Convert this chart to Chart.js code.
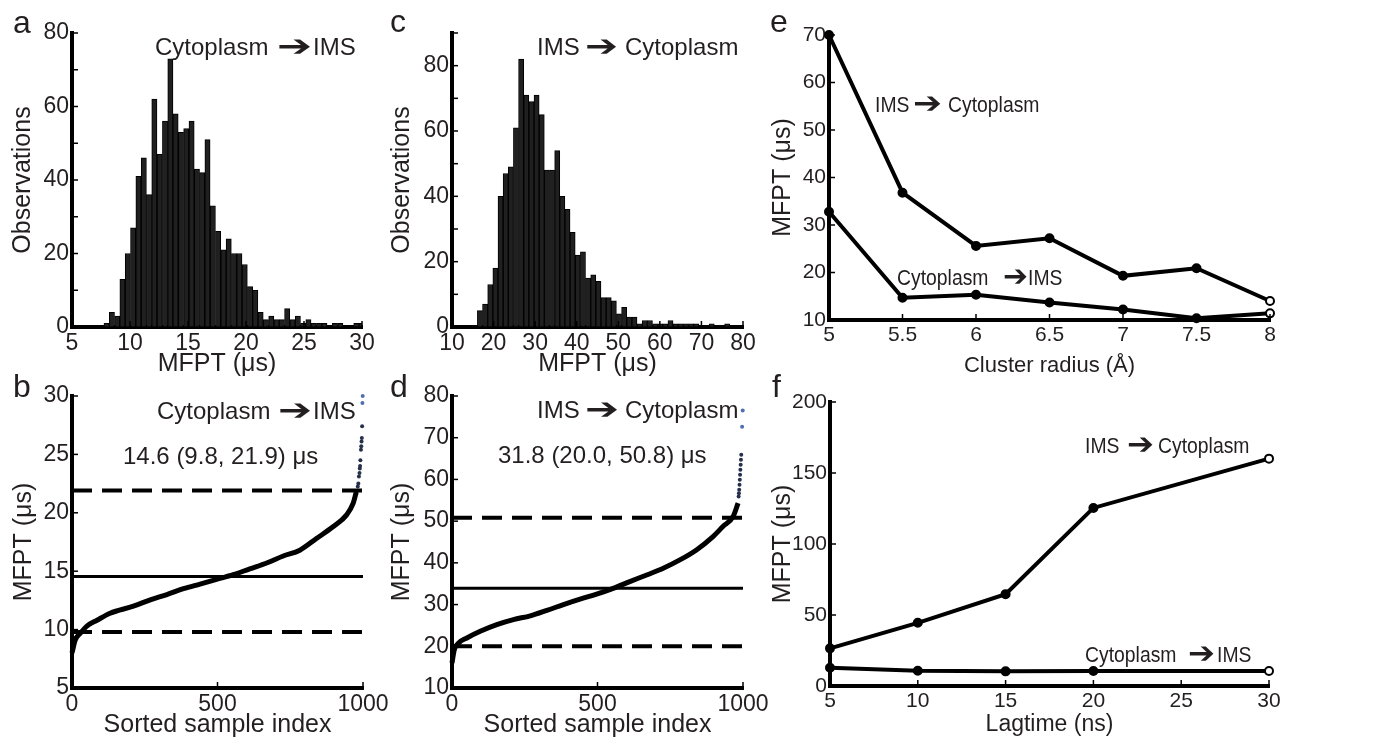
<!DOCTYPE html>
<html><head><meta charset="utf-8">
<script src="https://cdn.jsdelivr.net/npm/chart.js@4.4.0/dist/chart.umd.min.js"></script>
<style>
html,body{margin:0;padding:0;background:#fff;width:1392px;height:747px;overflow:hidden}
canvas{position:absolute}
</style></head><body>
<canvas id="pa" width="387" height="385" style="left:0;top:0"></canvas>
<canvas id="pb" width="395" height="375" style="left:0;top:372px"></canvas>
<canvas id="pc" width="400" height="385" style="left:387px;top:0"></canvas>
<canvas id="pd" width="400" height="375" style="left:387px;top:372px"></canvas>
<canvas id="pe" width="624" height="390" style="left:768px;top:0"></canvas>
<canvas id="pf" width="624" height="375" style="left:768px;top:372px"></canvas>
<script>
// ---------- DATA ----------
// (a) histogram Cytoplasm -> IMS
const histA_centers = [7.98,8.44,8.90,9.35,9.81,10.27,10.73,11.19,11.64,12.10,12.56,13.02,13.48,13.93,14.39,14.85,15.31,15.77,16.22,16.68,17.14,17.60,18.06,18.51,18.97,19.43,19.89,20.35,20.80,21.26,21.72,22.18,22.64,23.09,23.55,24.01,24.47,24.93,25.38,25.84,26.30,26.76,27.22,27.67,28.13,28.59,29.05,29.51,29.96];
const histA_counts  = [1,4,3,13,20,27,41,46,36,62,47,56,73,58,53,54,56,43,42,51,33,26,21,24,20,20,17,11,10,4,2,3,2,2,5,2,3,1,2,1,1,1,0,1,1,0,0,1,1];
// (c) histogram IMS -> Cytoplasm
const histC_centers = [16.72,17.96,19.20,20.44,21.68,22.92,24.15,25.39,26.63,27.87,29.11,30.35,31.59,32.83,34.07,35.31,36.54,37.78,39.02,40.26,41.50,42.74,43.98,45.22,46.46,47.70,48.93,50.17,51.41,52.65,53.89,55.13,56.37,57.61,58.85,60.09,61.32,62.56,63.80,65.04,66.28,67.52,68.76,70.00,71.24,72.48,73.71,74.95,76.19];
const histC_counts  = [5,7,13,18,40,47,49,61,82,71,69,71,65,48,48,54,40,36,29,22,23,15,16,14,9,9,8,4,6,3,3,1,2,2,1,1,1,2,1,1,1,1,1,0,0,1,0,0,1];
// (b) sorted samples Cytoplasm -> IMS
const sortB_index = [0,11,29,51,86,131,211,269,326,383,440,497,554,611,669,726,783,840,897,943,966,977];
const sortB_value = [8.0,9.1,9.7,10.3,10.8,11.4,12.0,12.55,13.0,13.5,13.9,14.3,14.7,15.2,15.7,16.3,16.8,17.8,18.8,19.8,20.8,21.8];
const tailB_index = [982,984,986,988,989,990,991,993,994,995,996,997,998,999];
const tailB_value = [22.25,22.5,23.1,23.4,23.8,24.0,24.5,25.4,25.7,26.1,26.4,27.4,29.4,30.0];
const refB = [14.55, 9.8, 21.9];   // solid line, lower dashed, upper dashed
// (d) sorted samples IMS -> Cytoplasm
const sortD_index = [0,8,23,51,97,154,211,269,326,383,440,497,554,611,669,726,783,840,897,931,966,983];
const sortD_value = [16.0,19.2,20.8,22.0,23.6,25.2,26.4,27.3,28.6,30.0,31.3,32.5,33.9,35.5,37.1,38.7,40.7,43.1,46.3,48.7,51.1,54.3];
const tailD_index = [985,986,987,988,989,990,991,992,993,994,997,999];
const tailD_value = [55.9,56.7,57.5,58.7,59.9,61.1,62.3,63.5,64.7,65.9,72.6,76.5];
const refD = [33.9, 20.0, 50.8];
// (e) cluster radius
const radius = [5,5.5,6,6.5,7,7.5,8];
const radiusIMS2Cyto = [70,36.8,25.6,27.2,19.3,20.9,14.0];
const radiusCyto2IMS = [32.8,14.7,15.3,13.7,12.2,10.35,11.4];
// (f) lagtime
const lagtime = [5,10,15,20,30];
const lagIMS2Cyto = [26.5,44.5,64.7,125.4,160.1];
const lagCyto2IMS = [12.9,10.8,10.3,10.55,10.55];

// ---------- STYLE / HELPERS ----------
const FONT = "'Liberation Sans', Arial, Helvetica, sans-serif";
const TXT = '#231f20';
Chart.defaults.font.family = FONT;
Chart.defaults.color = TXT;

const annot = {
  id: 'annot',
  afterDraw(chart, args, opts) {
    const ctx = chart.ctx;
    for (const it of (opts.items || [])) {
      for (const p of it.parts) {
        ctx.save();
        ctx.fillStyle = TXT;
        ctx.textBaseline = 'alphabetic';
        ctx.textAlign = 'left';
        ctx.translate(it.x + p.x, it.y + (p.dy || 0));
        if (p.arrow) {
          ctx.font = (p.size || 24) + "px 'DejaVu Sans'";
          const m = ctx.measureText(p.t).width;
          ctx.scale(p.w / m, 1);
        } else {
          ctx.font = p.size + 'px ' + FONT;
          ctx.scale(p.sx || 1, 1);
        }
        ctx.fillText(p.t, 0, 0);
        ctx.restore();
      }
    }
  }
};
const inTicks = {
  id: 'inTicks',
  afterDatasetsDraw(chart) {
    const ctx = chart.ctx, ca = chart.chartArea;
    const len = 6;
    ctx.save(); ctx.strokeStyle = '#000'; ctx.lineWidth = 1.5;
    const xs = chart.scales.x, ys = chart.scales.y;
    xs.ticks.forEach(t => { const p = xs.getPixelForValue(t.value); ctx.beginPath(); ctx.moveTo(p, ca.bottom); ctx.lineTo(p, ca.bottom - len); ctx.stroke(); });
    ys.ticks.forEach(t => { const p = ys.getPixelForValue(t.value); ctx.beginPath(); ctx.moveTo(ca.left, p); ctx.lineTo(ca.left + len, p); ctx.stroke(); });
    ctx.restore();
  }
};

function axis(o) {
  return {
    type: 'linear', min: o.min, max: o.max, offset: false,
    grid: {display: true, drawOnChartArea: false, drawTicks: false, offset: false},
    border: {display: true, color: '#000', width: 4},
    ticks: {stepSize: o.step, autoSkip: false, maxRotation: 0, minRotation: 0,
      padding: o.tpad == null ? 3 : o.tpad, font: {size: o.fs}, color: TXT,
      callback: o.cb || (v => String(v))},
    title: {display: true, text: o.title, font: {size: o.ts}, color: TXT, padding: o.titlePad},
    afterFit: s => { if (o.isY) s.width = o.size; else s.height = o.size; }
  };
}
function baseOptions(pad, xAxis, yAxis, items) {
  return {
    responsive: false, animation: false, devicePixelRatio: 1,
    layout: {padding: pad},
    plugins: {legend: {display: false}, tooltip: {enabled: false}, annot: {items}},
    scales: {x: xAxis, y: yAxis}
  };
}
const arrowTxt = (a, b, y, xa, xarr, warr, xb, size, sx) => ({x: 0, y, parts: [
  {t: a, x: xa, size, sx}, {t: '\u2794', x: xarr, w: warr, arrow: true, size: 30, dy: 1}, {t: b, x: xb, size, sx}]});
const letter = (t, x, y) => ({x, y, parts: [{t, x: 0, size: 32}]});
const pts = (xs, ys) => xs.map((v, i) => ({x: v, y: ys[i]}));

// ---------- (a) ----------
new Chart(document.getElementById('pa'), {
  type: 'bar',
  data: {datasets: [{data: pts(histA_centers, histA_counts), backgroundColor: '#202020', borderColor: '#000', borderWidth: 1,
    barPercentage: 1, categoryPercentage: 1}]},
  options: baseOptions({top: 33, right: 25, left: 0, bottom: 0},
    axis({min: 5, max: 30, step: 5, fs: 23, title: 'MFPT (\u03bcs)', ts: 25, titlePad: {top: 0, bottom: 6}, size: 58}),
    axis({isY: true, min: 0, max: 80, step: 10, fs: 23, title: 'Observations', ts: 25, titlePad: {top: 8, bottom: 0}, size: 72,
      cb: v => (v % 20 === 0 ? String(v) : '')}),
    [letter('a', 13, 33), arrowTxt('Cytoplasm', 'IMS', 55, 155, 277, 35, 313, 24)]),
  plugins: [annot, inTicks]
});

// ---------- (c) ----------
new Chart(document.getElementById('pc'), {
  type: 'bar',
  data: {datasets: [{data: pts(histC_centers, histC_counts), backgroundColor: '#202020', borderColor: '#000', borderWidth: 1,
    barPercentage: 1, categoryPercentage: 1}]},
  options: baseOptions({top: 33, right: 44, left: 0, bottom: 0},
    axis({min: 10, max: 80, step: 10, fs: 23, title: 'MFPT (\u03bcs)', ts: 25, titlePad: {top: 0, bottom: 6}, size: 58}),
    axis({isY: true, min: 0, max: 90, step: 10, fs: 23, title: 'Observations', ts: 25, titlePad: {top: 0, bottom: 0}, size: 65,
      cb: v => (v % 20 === 0 ? String(v) : '')}),
    [letter('c', 3, 32), arrowTxt('IMS', 'Cytoplasm', 55, 150, 198, 33, 238, 24)]),
  plugins: [annot, inTicks]
});

// ---------- sorted-sample panels ----------
function sortedChart(id, idx, val, tIdx, tVal, ref, yMin, yMax, yStep, padRight, yW, items) {
  const hline = (v, dash) => ({data: [{x: 0, y: v}, {x: 1000, y: v}], borderColor: '#000',
    borderWidth: dash ? 4 : 3, borderDash: dash ? [20, 10] : [], pointRadius: 0, clip: false});
  const tailColors = tVal.map((v, i) => (i >= tVal.length - 2 ? '#4f6fb0' : '#26304a'));
  return new Chart(document.getElementById(id), {
    type: 'line',
    data: {datasets: [
      hline(ref[0], false), hline(ref[1], true), hline(ref[2], true),
      {data: pts(idx, val), borderColor: '#000', borderWidth: 5, pointRadius: 0, cubicInterpolationMode: 'monotone', clip: false},
      {data: pts(tIdx, tVal), showLine: false, pointRadius: 2, pointBorderWidth: 0, pointBackgroundColor: tailColors, clip: false}
    ]},
    options: baseOptions({top: 24, right: padRight, left: 0, bottom: 0},
      axis({min: 0, max: 1000, step: 500, fs: 23, title: 'Sorted sample index', ts: 25, titlePad: {top: 0, bottom: 7}, size: 59}),
      axis({isY: true, min: yMin, max: yMax, step: yStep, fs: 23, title: 'MFPT (\u03bcs)', ts: 25, titlePad: {top: yW === 72 ? 9 : 0, bottom: 0}, size: yW}),
      items),
    plugins: [annot, inTicks]
  });
}
sortedChart('pb', sortB_index, sortB_value, tailB_index, tailB_value, refB, 5, 30, 5, 32, 72,
  [letter('b', 13, 25), arrowTxt('Cytoplasm', 'IMS', 47, 157, 278, 34, 313, 24),
   {x: 123, y: 92, parts: [{t: '14.6 (9.8, 21.9) \u03bcs', x: 0, size: 24}]}]);
sortedChart('pd', sortD_index, sortD_value, tailD_index, tailD_value, refD, 10, 80, 10, 44, 65,
  [letter('d', 3, 25), arrowTxt('IMS', 'Cytoplasm', 46, 150, 198, 34, 238, 24),
   {x: 111, y: 91, parts: [{t: '31.8 (20.0, 50.8) \u03bcs', x: 0, size: 24}]}]);

// ---------- line panels ----------
function lineDs(xs, ys) {
  return {data: pts(xs, ys), borderColor: '#000', borderWidth: 4, pointRadius: 4, pointBorderWidth: 2,
    pointBorderColor: '#000', pointBackgroundColor: c => (c.dataIndex === xs.length - 1 ? '#fff' : '#000'), clip: false};
}
new Chart(document.getElementById('pe'), {
  type: 'line',
  data: {datasets: [lineDs(radius, radiusIMS2Cyto), lineDs(radius, radiusCyto2IMS)]},
  options: baseOptions({top: 35, right: 122, left: 0, bottom: 0},
    axis({min: 5, max: 8, step: 0.5, fs: 21, title: 'Cluster radius (\u00c5)', ts: 22, titlePad: {top: 0, bottom: 11}, size: 70, tpad: 3}),
    axis({isY: true, min: 10, max: 70, step: 10, fs: 21, title: 'MFPT (\u03bcs)', ts: 25, titlePad: {top: 0, bottom: 0}, size: 61, tpad: 3}),
    [letter('e', 2, 32), arrowTxt('IMS', 'Cytoplasm', 112, 107, 145, 29, 180, 22, 0.88),
     arrowTxt('Cytoplasm', 'IMS', 285, 129, 235, 25, 260, 22, 0.88)]),
  plugins: [annot, inTicks]
});
new Chart(document.getElementById('pf'), {
  type: 'line',
  data: {datasets: [lineDs(lagtime, lagIMS2Cyto), lineDs(lagtime, lagCyto2IMS)]},
  options: baseOptions({top: 30, right: 123, left: 0, bottom: 0},
    axis({min: 5, max: 30, step: 5, fs: 21, title: 'Lagtime (ns)', ts: 23, titlePad: {top: 0, bottom: 9}, size: 61, tpad: 3}),
    axis({isY: true, min: 0, max: 200, step: 50, fs: 21, title: 'MFPT (\u03bcs)', ts: 25, titlePad: {top: 0, bottom: 0}, size: 62, tpad: 3}),
    [letter('f', 4, 25), arrowTxt('IMS', 'Cytoplasm', 81, 317, 359, 27, 390, 22, 0.88),
     arrowTxt('Cytoplasm', 'IMS', 290, 317, 420, 27, 449, 22, 0.88)]),
  plugins: [annot, inTicks]
});
</script>
</body></html>
